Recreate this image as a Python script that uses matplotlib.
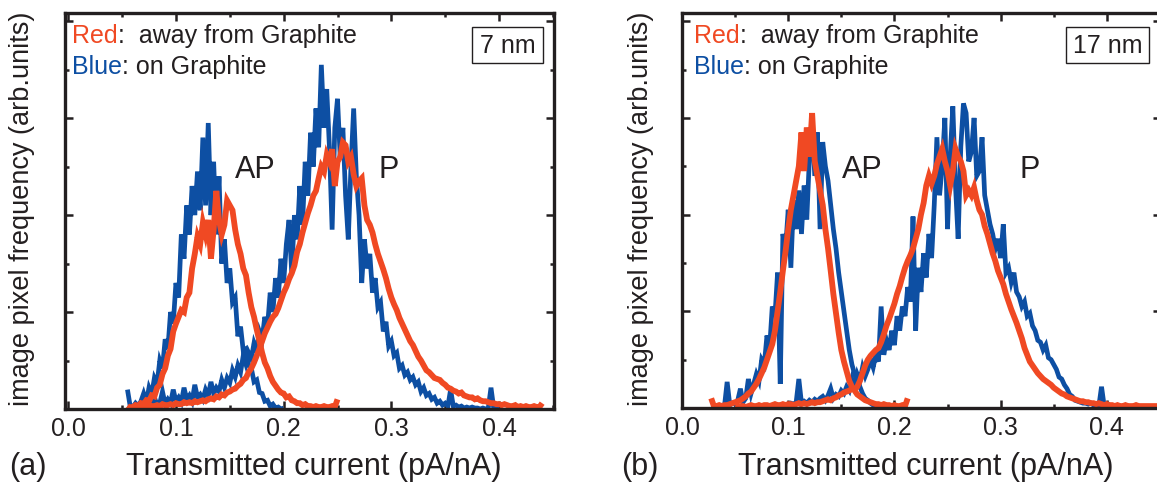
import numpy as np
import matplotlib
matplotlib.use("Agg")
import matplotlib.pyplot as plt
from matplotlib.ticker import MultipleLocator, FormatStrFormatter

plt.rcParams['font.family'] = ['Liberation Sans', 'DejaVu Sans']

STEP = 0.0025  # histogram bin width (pA/nA)

# ---------------- Panel (a): 7 nm ----------------
a_blue_ap_start = 0.055
a_blue_ap = [0.20, 0.03, 0.02, 0.06, 0.03, 0.08, 0.16, 0.07, 0.22, 0.15,
             0.32, 0.26, 0.50, 0.42, 0.72, 0.62, 1.00, 0.88, 1.30, 1.15,
             1.80, 1.55, 2.10, 1.80, 2.30, 2.00, 2.45, 2.05, 2.80, 2.10,
             2.95, 2.00, 2.55, 1.80, 2.40, 1.50, 1.75, 1.30, 1.45, 1.10,
             1.15, 0.75, 0.85, 0.60, 0.62, 0.45, 0.42, 0.28, 0.30, 0.17,
             0.16, 0.08, 0.09, 0.03, 0.05, 0.01, 0.02, 0.00, 0.01]

a_red_ap_start = 0.055
a_red_ap = [0.03, 0.01, 0.02, 0.04, 0.03, 0.06, 0.05, 0.09, 0.08, 0.14,
            0.13, 0.22, 0.25, 0.36, 0.42, 0.55, 0.62, 0.80, 0.88, 0.95,
            1.02, 1.00, 1.15, 1.20, 1.45, 1.60, 1.78, 1.70, 1.92, 1.80,
            1.95, 1.55, 1.85, 2.25, 1.95, 1.80, 1.90, 2.15, 2.10, 2.05,
            1.85, 1.70, 1.60, 1.45, 1.38, 1.20, 1.05, 0.95, 0.82, 0.70,
            0.58, 0.48, 0.42, 0.34, 0.28, 0.24, 0.20, 0.17, 0.16, 0.12,
            0.13, 0.09, 0.08, 0.06, 0.06, 0.04, 0.05, 0.03, 0.03, 0.02,
            0.03, 0.02, 0.02, 0.03, 0.02, 0.02, 0.03, 0.02, 0.10]

a_blue_p_start = 0.075
a_blue_p = [0.05, 0.02, 0.12, 0.04, 0.06, 0.18, 0.05, 0.10, 0.06, 0.20,
            0.08, 0.12, 0.07, 0.22, 0.10, 0.14, 0.08, 0.25, 0.12, 0.15,
            0.10, 0.20, 0.14, 0.28, 0.16, 0.22, 0.18, 0.30, 0.22, 0.32,
            0.27, 0.40, 0.33, 0.45, 0.38, 0.55, 0.46, 0.58, 0.52, 0.68,
            0.60, 0.80, 0.72, 0.95, 0.85, 1.20, 1.00, 1.35, 1.15, 1.55,
            1.30, 1.70, 1.95, 1.40, 2.00, 1.75, 2.30, 1.90, 2.55, 2.20,
            2.85, 2.50, 3.10, 2.70, 3.55, 2.90, 3.30, 2.70, 1.85, 2.90,
            3.20, 2.60, 2.90, 2.20, 1.75, 2.50, 3.10, 2.40, 2.00, 1.30,
            1.75, 1.45, 1.60, 1.20, 1.35, 1.05, 1.10, 0.80, 0.90, 0.65,
            0.70, 0.55, 0.58, 0.42, 0.45, 0.35, 0.38, 0.30, 0.33, 0.25,
            0.28, 0.18, 0.22, 0.14, 0.16, 0.10, 0.12, 0.06, 0.08, 0.04,
            0.06, 0.03, 0.20, 0.03, 0.04, 0.02, 0.03, 0.01, 0.02, 0.01,
            0.02, 0.01, 0.01, 0.00, 0.01, 0.00, 0.01, 0.22, 0.01, 0.00,
            0.00]

a_red_p_start = 0.055
a_red_p = [0.03, 0.01, 0.02, 0.02, 0.03, 0.02, 0.03, 0.02, 0.04, 0.03,
           0.03, 0.04, 0.03, 0.05, 0.04, 0.04, 0.05, 0.04, 0.06, 0.05,
           0.05, 0.07, 0.06, 0.07, 0.06, 0.08, 0.07, 0.08, 0.09, 0.08,
           0.10, 0.11, 0.10, 0.13, 0.12, 0.15, 0.14, 0.17, 0.18, 0.20,
           0.21, 0.24, 0.26, 0.30, 0.32, 0.38, 0.42, 0.48, 0.55, 0.62,
           0.70, 0.78, 0.84, 0.90, 0.95, 0.98, 1.04, 1.12, 1.20, 1.26,
           1.34, 1.40, 1.48, 1.62, 1.70, 1.82, 1.92, 2.02, 2.10, 2.20,
           2.25, 2.38, 2.50, 2.45, 2.62, 2.55, 2.68, 2.30, 2.55, 2.60,
           2.75, 2.72, 2.55, 2.60, 2.42, 2.30, 2.35, 2.38, 2.10, 1.95,
           1.90, 1.82, 1.70, 1.60, 1.52, 1.44, 1.35, 1.24, 1.15, 1.08,
           1.02, 0.94, 0.88, 0.82, 0.76, 0.70, 0.66, 0.60, 0.54, 0.50,
           0.45, 0.40, 0.38, 0.35, 0.32, 0.31, 0.30, 0.27, 0.25, 0.22,
           0.21, 0.19, 0.18, 0.16, 0.17, 0.14, 0.13, 0.12, 0.12, 0.10,
           0.11, 0.09, 0.08, 0.08, 0.07, 0.06, 0.06, 0.05, 0.05, 0.04,
           0.05, 0.04, 0.03, 0.03, 0.04, 0.02, 0.03, 0.02, 0.03, 0.02,
           0.02, 0.03, 0.02, 0.02, 0.06]

# ---------------- Panel (b): 17 nm ----------------
b_blue_ap_start = 0.04
b_blue_ap = [0.02, 0.27, 0.03, 0.05, 0.04, 0.08, 0.20, 0.06, 0.10, 0.30,
             0.15, 0.25, 0.35, 0.28, 0.50, 0.45, 0.75, 0.62, 1.05, 0.95,
             1.40, 0.25, 1.80, 1.65, 2.05, 1.45, 2.15, 1.85, 2.25, 1.80,
             2.30, 1.95, 2.60, 2.95, 2.40, 2.85, 1.85, 2.75, 2.50, 2.35,
             2.10, 1.85, 1.65, 1.40, 1.20, 1.00, 0.80, 0.60, 0.45, 0.35,
             0.28, 0.22, 0.15, 0.10, 0.08, 0.05, 0.03, 0.02, 0.01]

b_red_ap_start = 0.0275
b_red_ap = [0.10, 0.02, 0.02, 0.03, 0.02, 0.03, 0.03, 0.04, 0.05, 0.06,
            0.07, 0.08, 0.10, 0.12, 0.15, 0.17, 0.21, 0.25, 0.30, 0.36,
            0.42, 0.50, 0.58, 0.66, 0.80, 1.00, 1.20, 1.42, 1.62, 1.85,
            2.05, 2.20, 2.35, 2.50, 2.85, 2.45, 2.90, 2.60, 3.05, 2.55,
            2.40, 2.25, 2.10, 1.85, 1.65, 1.42, 1.18, 0.98, 0.78, 0.60,
            0.48, 0.38, 0.28, 0.22, 0.18, 0.14, 0.12, 0.10, 0.08, 0.07,
            0.06, 0.05, 0.04, 0.04, 0.03, 0.04, 0.03, 0.03, 0.02, 0.03,
            0.02, 0.02, 0.03, 0.02, 0.10]

b_blue_p_start = 0.10
b_blue_p = [0.03, 0.05, 0.04, 0.06, 0.30, 0.05, 0.07, 0.05, 0.08, 0.06,
            0.09, 0.07, 0.10, 0.12, 0.08, 0.13, 0.20, 0.10, 0.14, 0.12,
            0.18, 0.15, 0.22, 0.18, 0.30, 0.22, 0.35, 0.28, 0.42, 0.33,
            0.40, 0.50, 0.42, 0.55, 0.48, 1.05, 0.55, 0.70, 0.60, 0.80,
            0.65, 0.95, 0.80, 1.05, 0.95, 1.25, 1.10, 1.98, 0.80, 1.45,
            1.20, 1.60, 1.35, 1.80, 1.55, 2.10, 2.80, 2.20, 2.50, 3.00,
            1.85, 2.60, 3.12, 2.30, 1.75, 2.70, 3.15, 3.05, 2.55, 2.65,
            3.00, 2.40, 2.45, 2.80, 2.20, 2.05, 1.90, 1.80, 1.65, 1.75,
            1.55, 1.90, 1.40, 1.45, 1.30, 1.40, 1.20, 1.15, 1.05, 1.10,
            0.95, 0.98, 0.85, 0.80, 0.70, 0.68, 0.60, 0.65, 0.52, 0.50,
            0.45, 0.40, 0.32, 0.30, 0.24, 0.20, 0.14, 0.12, 0.08, 0.07,
            0.06, 0.05, 0.05, 0.04, 0.05, 0.03, 0.04, 0.02, 0.22, 0.02,
            0.01, 0.01, 0.00]

b_red_p_start = 0.05
b_red_p = [0.02, 0.01, 0.02, 0.02, 0.01, 0.02, 0.03, 0.02, 0.02, 0.03,
           0.02, 0.03, 0.03, 0.02, 0.03, 0.04, 0.03, 0.03, 0.04, 0.03,
           0.04, 0.04, 0.03, 0.04, 0.05, 0.04, 0.05, 0.04, 0.05, 0.06,
           0.05, 0.06, 0.06, 0.07, 0.08, 0.09, 0.08, 0.10, 0.11, 0.13,
           0.14, 0.16, 0.17, 0.18, 0.20, 0.19, 0.22, 0.28, 0.36, 0.44,
           0.50, 0.54, 0.57, 0.60, 0.62, 0.68, 0.76, 0.85, 0.92, 1.00,
           1.08, 1.18, 1.26, 1.36, 1.45, 1.52, 1.58, 1.65, 1.75, 1.85,
           2.00, 2.12, 2.30, 2.40, 2.32, 2.40, 2.52, 2.60, 2.68, 2.55,
           2.45, 2.30, 2.45, 2.68, 2.60, 2.55, 2.45, 2.20, 2.25, 2.20,
           2.28, 2.15, 2.05, 2.00, 1.88, 1.80, 1.70, 1.60, 1.52, 1.42,
           1.35, 1.28, 1.18, 1.10, 1.02, 0.95, 0.88, 0.80, 0.72, 0.62,
           0.55, 0.48, 0.44, 0.40, 0.36, 0.33, 0.30, 0.28, 0.26, 0.24,
           0.21, 0.19, 0.17, 0.15, 0.14, 0.12, 0.11, 0.10, 0.09, 0.08,
           0.07, 0.07, 0.06, 0.06, 0.05, 0.05, 0.04, 0.05, 0.04, 0.03,
           0.04, 0.03, 0.03, 0.02, 0.03, 0.02, 0.02, 0.03, 0.02, 0.02,
           0.02, 0.03, 0.02, 0.02, 0.02, 0.02, 0.02, 0.02, 0.02, 0.02,
           0.02, 0.02, 0.02]

panel_labels = ["(a)", "(b)"]
thickness_labels = ["7 nm", "17 nm"]
xlabel = "Transmitted current (pA/nA)"
ylabel = "image pixel frequency (arb.units)"

RED = "#f04923"
BLUE = "#0d4fa3"
DARK = "#231f20"


def xs(start, vals):
    return start + STEP * np.arange(len(vals))


W, H = 1157, 485
fig = plt.figure(figsize=(W / 100, H / 100), dpi=100)
fig.patch.set_facecolor("white")

axa = fig.add_axes([65 / W, (H - 410) / H, 489 / W, 396.5 / H])
axb = fig.add_axes([682 / W, (H - 409) / H, 479 / W, 395.5 / H])

panels = [
    (axa, (-0.003, 0.451),
     [(a_blue_ap_start, a_blue_ap), (a_blue_p_start, a_blue_p)],
     [(a_red_ap_start, a_red_ap), (a_red_p_start, a_red_p)]),
    (axb, (0.0, 0.451),
     [(b_blue_ap_start, b_blue_ap), (b_blue_p_start, b_blue_p)],
     [(b_red_ap_start, b_red_ap), (b_red_p_start, b_red_p)]),
]

for ax, xlim, blues, reds in panels:
    for s, v in blues:
        ax.plot(xs(s, v), v, color=BLUE, lw=3.4, solid_joinstyle="miter",
                solid_capstyle="butt")
    for s, v in reds:
        ax.plot(xs(s, v), v, color=RED, lw=4.2, solid_joinstyle="miter",
                solid_capstyle="butt")
    ax.set_xlim(*xlim)
    ax.set_ylim(0, 4.09)
    ax.xaxis.set_major_locator(MultipleLocator(0.1))
    ax.xaxis.set_minor_locator(MultipleLocator(0.05))
    ax.xaxis.set_major_formatter(FormatStrFormatter("%.1f"))
    ax.yaxis.set_major_locator(MultipleLocator(1.0))
    ax.yaxis.set_minor_locator(MultipleLocator(0.5))
    ax.tick_params(which="both", direction="in", top=True, right=True,
                   color=DARK, width=1.8, labelleft=False)
    ax.tick_params(which="major", length=5.5, labelsize=18, pad=5,
                   labelcolor=DARK)
    ax.tick_params(which="minor", length=3)
    for sp in ax.spines.values():
        sp.set_linewidth(2.4)
        sp.set_color(DARK)

# legend-like texts
for ax, x0 in [(axa, 72), (axb, 694)]:
    for word, rest, ybase, col in [("Red", ":  away from Graphite", 43, RED),
                                   ("Blue", ": on Graphite", 74, BLUE)]:
        t = fig.text(x0 / W, (H - ybase) / H, word, color=col, fontsize=18,
                     ha="left", va="baseline")
        ax.annotate(rest, xy=(1, 0), xycoords=t, xytext=(0, 0),
                    textcoords="offset points", ha="left", va="bottom",
                    fontsize=18, color=DARK, annotation_clip=False)

# thickness boxes
for (cx, x1, x2), lab in zip([(507.5, 472, 543), (1107.5, 1066, 1149)],
                             thickness_labels):
    fig.text(cx / W, (H - 46) / H, lab, fontsize=18, color=DARK,
             ha="center", va="center")
    fig.patches.append(plt.Rectangle((x1 / W, (H - 64) / H), (x2 - x1) / W,
                                     36 / H, transform=fig.transFigure,
                                     fill=False, ec=DARK, lw=1.0,
                                     figure=fig))

# AP / P labels
for ax, xap, xp in [(axa, 0.155, 0.288), (axb, 0.151, 0.318)]:
    ax.text(xap, 2.39, "AP", fontsize=22, color=DARK, ha="left",
            va="baseline")
    ax.text(xp, 2.39, "P", fontsize=22, color=DARK, ha="left",
            va="baseline")

# axis labels
for xc in [314, 926]:
    fig.text(xc / W, (H - 475) / H, xlabel, fontsize=22, color=DARK,
             ha="center", va="baseline")
for xc in [22, 641]:
    fig.text(xc / W, (H - 209) / H, ylabel, fontsize=19.5, color=DARK,
             ha="center", va="center", rotation=90)
for xl, lab in zip([9, 621], panel_labels):
    fig.text(xl / W, (H - 475) / H, lab, fontsize=22, color=DARK,
             ha="left", va="baseline")

fig.savefig("out.png", dpi=100)
